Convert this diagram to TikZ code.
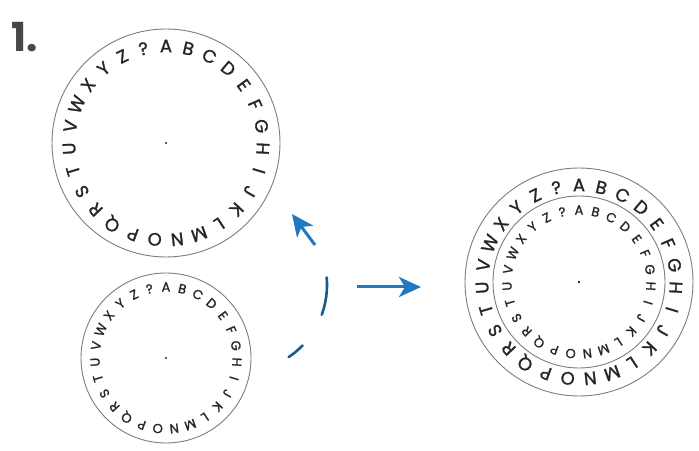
\documentclass[tikz,border=0pt]{standalone}
\usepackage{fontspec}
\setmainfont{Poppins}
\newfontfamily\wheelfont{Poppins}[FakeBold=1.3]
\usetikzlibrary{arrows.meta}
\definecolor{ringgray}{RGB}{125,125,125}
\definecolor{inkgray}{RGB}{38,38,38}
\definecolor{arrowblue}{RGB}{31,120,193}
\definecolor{dashblue}{RGB}{26,92,138}
\tikzset{
  ring/.style={circle, draw=ringgray, line width=0.9pt, inner sep=0pt},
  letter/.style={inner sep=0pt, text=inkgray, anchor=center},
  bluearrow/.style={draw=arrowblue, line width=3pt, -{Stealth[length=22pt, width=20pt, inset=6pt]}},
  bluedash/.style={draw=dashblue, line width=2.6pt, line cap=round},
  numlabel/.style={font=\bfseries\fontsize{40}{40}\selectfont, text=inkgray!85, anchor=base west, inner sep=0pt}
}
\newcommand\cipherwheel[5]{%
  \node[ring, minimum size=#3] (#1) at #2 {};
  \fill[inkgray] (#1.center) circle (1.1pt);
  \foreach \ch [count=\i from 0] in {A,B,C,D,E,F,G,H,I,J,K,L,M,N,O,P,Q,R,S,T,U,V,W,X,Y,Z,?} {
    \pgfmathsetmacro\ang{90-\i*360/27}
    \pgfmathsetmacro\rot{\ang-90}
    \node[letter, font=\wheelfont\fontsize{#5}{#5}\selectfont, rotate=\rot] (#1-\i) at ([shift={(\ang:#4)}]#1.center) {\ch};
  }%
}
\begin{document}
\begin{tikzpicture}[x=1pt,y=1pt]
  \useasboundingbox (0,0) rectangle (699,450);
  \fill[white] (0,0) rectangle (699,450);
  \node[numlabel] (num) at (11,398) {1.};
  % top-left wheel (large)
  \cipherwheel{big}{(166,307)}{228pt}{97pt}{18}
  % bottom-left wheel (small)
  \cipherwheel{small}{(166,92)}{170pt}{71pt}{13}
  % combined wheels
  \cipherwheel{outer}{(579,168)}{228pt}{97pt}{18}
  \cipherwheel{inner}{(579,168)}{172pt}{72pt}{13}
  % curved dashed rotation arrow
  \coordinate (pivot) at (240,165);
  \draw[bluedash] ([shift={(-56:87pt)}]pivot) arc[start angle=-56, end angle=-44, radius=87pt];
  \draw[bluedash] ([shift={(-20:87pt)}]pivot) arc[start angle=-20, end angle=5, radius=87pt];
  \coordinate (rotstart) at (315,205);
  \coordinate (rottip) at (292,236);
  \draw[bluearrow] (rotstart) -- (rottip);
  % right arrow
  \coordinate (rstart) at (357,163);
  \coordinate (rtip) at (421,163);
  \draw[bluearrow] (rstart) -- (rtip);
\end{tikzpicture}
\end{document}
